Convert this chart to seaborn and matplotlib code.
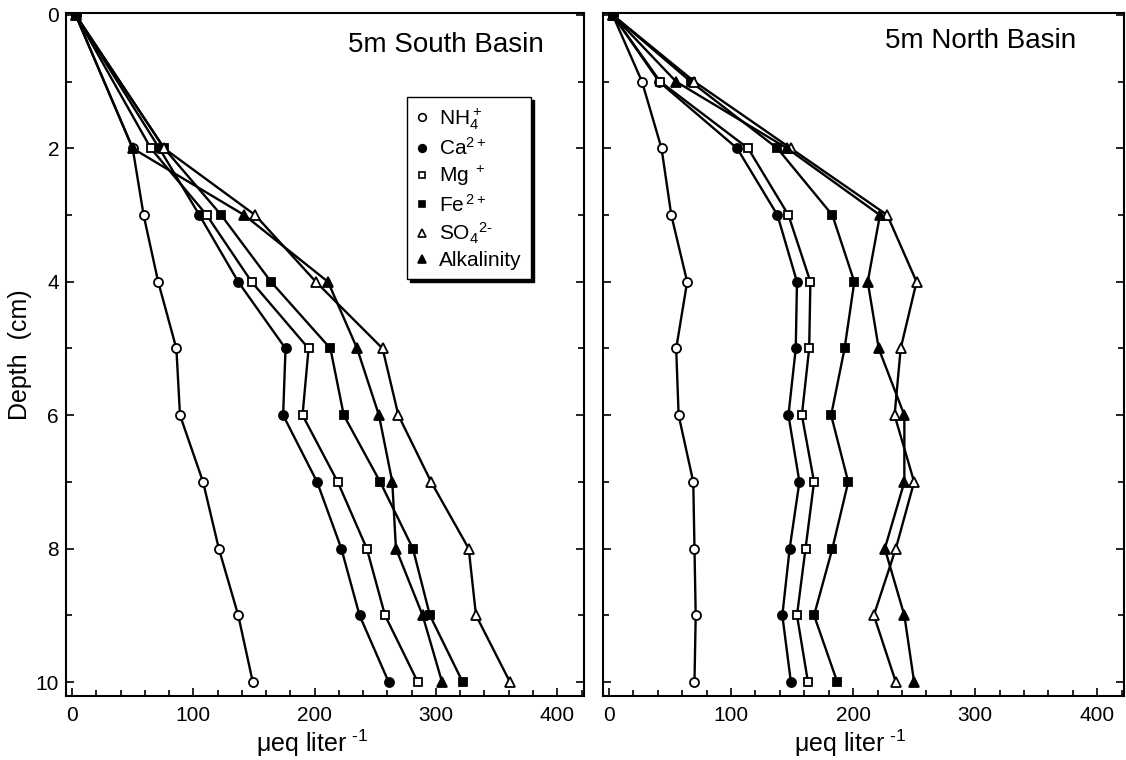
import numpy as np
import pandas as pd
import seaborn as sns
import matplotlib.pyplot as plt
from matplotlib.lines import Line2D
from matplotlib.ticker import MultipleLocator

sns.set_theme(style="ticks")
plt.rcParams['font.family'] = ['Liberation Sans', 'DejaVu Sans']
plt.rcParams['mathtext.fontset'] = 'custom'
plt.rcParams['mathtext.rm'] = 'Liberation Sans'
plt.rcParams['mathtext.default'] = 'regular'
plt.rcParams['text.color'] = 'black'
plt.rcParams['axes.labelcolor'] = 'black'
plt.rcParams['xtick.color'] = 'black'
plt.rcParams['ytick.color'] = 'black'

# 数据：深度 (cm) 与各离子浓度 (µeq/L)
species = ['NH4', 'Ca', 'Mg', 'Fe', 'SO4', 'Alkalinity']
legend_labels = [r'NH$_4^+$', r'Ca$^{2+}$', r'Mg$^{\ +}$', r'Fe$^{\,2+}$',
                 r'SO$_4{}^{2\text{-}}$', 'Alkalinity']

south_depth = [0, 2, 3, 4, 5, 6, 7, 8, 9, 10]
south_nh4 = [3, 50, 59, 71, 86, 89, 108, 121, 137, 149]
south_ca = [3, 72, 105, 137, 176, 174, 202, 222, 237, 261]
south_mg = [3, 65, 111, 148, 195, 190, 219, 243, 258, 285]
south_fe = [3, 76, 123, 164, 213, 224, 254, 281, 295, 322]
south_so4 = [3, 76, 151, 201, 256, 269, 296, 327, 333, 361]
south_alk = [3, 50, 142, 211, 235, 253, 264, 267, 289, 305]

north_depth = [0, 1, 2, 3, 4, 5, 6, 7, 8, 9, 10]
north_nh4 = [3, 27, 43, 51, 64, 55, 57, 69, 70, 71, 70]
north_ca = [3, 41, 105, 138, 154, 153, 147, 156, 148, 142, 149]
north_mg = [3, 42, 114, 147, 165, 164, 158, 168, 161, 154, 163]
north_fe = [3, 67, 138, 183, 201, 193, 182, 196, 183, 168, 187]
north_so4 = [3, 70, 149, 228, 252, 239, 234, 250, 235, 217, 235]
north_alk = [3, 55, 146, 222, 212, 221, 242, 242, 226, 242, 250]

marker_style = {
    'NH4': ('o', 'white', 6.5),
    'Ca': ('o', 'black', 6.5),
    'Mg': ('s', 'white', 6),
    'Fe': ('s', 'black', 6),
    'SO4': ('^', 'white', 7),
    'Alkalinity': ('^', 'black', 7),
}


def to_long(depth, series_list):
    frames = []
    for sp, vals in zip(species, series_list):
        frames.append(pd.DataFrame({'depth': depth, 'value': vals, 'species': sp}))
    return pd.concat(frames, ignore_index=True)


south_df = to_long(south_depth, [south_nh4, south_ca, south_mg, south_fe, south_so4, south_alk])
north_df = to_long(north_depth, [north_nh4, north_ca, north_mg, north_fe, north_so4, north_alk])

fig = plt.figure(figsize=(11.26, 7.6), dpi=100)
ax1 = fig.add_axes([0.0586, 0.0842, 0.460, 0.8987])
ax2 = fig.add_axes([0.5355, 0.0842, 0.4627, 0.8987])


def draw_panel(ax, df, title, title_x, title_y, show_ylabels):
    for sp in species:
        m, fc, ms = marker_style[sp]
        sns.lineplot(data=df[df['species'] == sp], x='value', y='depth', ax=ax,
                     orient='y', sort=False, estimator=None, color='black',
                     linewidth=1.7, marker=m, markersize=ms,
                     markerfacecolor=fc, markeredgecolor='black',
                     markeredgewidth=1.3, legend=False)
    ax.set_xlim(-5, 422)
    ax.set_ylim(10.21, -0.03)
    ax.xaxis.set_major_locator(MultipleLocator(100))
    ax.xaxis.set_minor_locator(MultipleLocator(20))
    ax.yaxis.set_major_locator(MultipleLocator(2))
    ax.yaxis.set_minor_locator(MultipleLocator(1))
    ax.tick_params(which='both', direction='in', left=True, right=True,
                   bottom=True, top=False, width=1.2, color='black')
    ax.tick_params(which='major', length=6, labelsize=15, pad=5)
    ax.tick_params(which='minor', length=4)
    ax.tick_params(axis='x', which='major', pad=7)
    if not show_ylabels:
        ax.tick_params(axis='y', labelleft=False)
    for s in ax.spines.values():
        s.set_linewidth(1.5)
        s.set_color('black')
    ax.set_xlabel(r'$\mu$eq liter$^{\ \text{-}1}$', fontsize=18)
    ax.xaxis.set_label_coords(0.475, -0.046)
    ax.set_ylabel('')
    ax.text(title_x, title_y, title, transform=ax.transAxes, ha='right',
            va='baseline', fontsize=20)


draw_panel(ax1, south_df, '5m South Basin', 0.923, 0.943, True)
draw_panel(ax2, north_df, '5m North Basin', 0.908, 0.949, False)
ax1.set_ylabel('Depth  (cm)', fontsize=18)
ax1.yaxis.set_label_coords(-0.065, 0.5)

handles = []
for sp, lab in zip(species, legend_labels):
    m, fc, ms = marker_style[sp]
    handles.append(Line2D([], [], linestyle='none', marker=m, markersize=ms - 1,
                          markerfacecolor=fc, markeredgecolor='black',
                          markeredgewidth=1.2, label=lab))
leg = ax1.legend(handles=handles, loc='upper left', bbox_to_anchor=(0.658, 0.877),
                 bbox_transform=ax1.transAxes, borderaxespad=0, frameon=True,
                 fancybox=False, shadow={'color': 'black', 'alpha': 1},
                 edgecolor='black', framealpha=1, fontsize=15, handlelength=0.6,
                 handletextpad=0.5, labelspacing=0.25, borderpad=0.45)
leg.get_frame().set_linewidth(1.0)

fig.savefig('out.png', dpi=100)
